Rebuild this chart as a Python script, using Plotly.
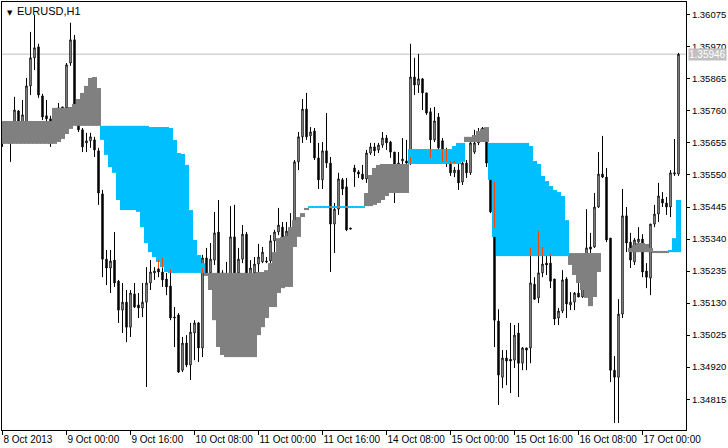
import plotly.graph_objects as go

symbol = "EURUSD,H1"

# ---- hourly candles (bar index 0 = 8 Oct 2013 08:00) ----
opens = [
    1.35698, 1.35671, 1.35704, 1.35681, 1.35760, 1.35714, 1.35724, 1.35842, 1.35934, 1.35970,
    1.35809, 1.35744, 1.35734, 1.35698, 1.35747, 1.35773, 1.35770, 1.35917, 1.35993, 1.35780,
    1.35698, 1.35655, 1.35662, 1.35665, 1.35629, 1.35488, 1.35274, 1.35245, 1.35271, 1.35202,
    1.35107, 1.35133, 1.35051, 1.35160, 1.35124, 1.35114, 1.35133, 1.35196, 1.35229, 1.35242,
    1.35232, 1.35209, 1.35186, 1.35081, 1.35091, 1.34910, 1.34999, 1.34927, 1.35032, 1.35065,
    1.34983, 1.35278, 1.35229, 1.35271, 1.35363, 1.35229, 1.35189, 1.35222, 1.35347, 1.35229,
    1.35274, 1.35356, 1.35212, 1.35229, 1.35258, 1.35265, 1.35268, 1.35268, 1.35334, 1.35363,
    1.35379, 1.35347, 1.35366, 1.35393, 1.35593, 1.35675, 1.35766, 1.35678, 1.35694, 1.35606,
    1.35534, 1.35629, 1.35589, 1.35389, 1.35438, 1.35534, 1.35511, 1.35376, 1.35573, 1.35560,
    1.35553, 1.35537, 1.35622, 1.35642, 1.35632, 1.35648, 1.35671, 1.35658, 1.35625, 1.35583,
    1.35596, 1.35596, 1.35589, 1.35871, 1.35845, 1.35865, 1.35819, 1.35757, 1.35665, 1.35740,
    1.35662, 1.35609, 1.35596, 1.35557, 1.35566, 1.35527, 1.35589, 1.35557, 1.35625, 1.35655,
    1.35681, 1.35698, 1.35593, 1.35429, 1.35071, 1.34887, 1.34950, 1.34946, 1.34943, 1.35032,
    1.34933, 1.34983, 1.34983, 1.35192, 1.35147, 1.35229, 1.35261, 1.35261, 1.35209, 1.35081,
    1.35104, 1.35209, 1.35124, 1.35133, 1.35163, 1.35150, 1.35196, 1.35314, 1.35314, 1.35445,
    1.35553, 1.35543, 1.35343, 1.34910, 1.34887, 1.35094, 1.35416, 1.35330, 1.35265, 1.35330,
    1.35340, 1.35235, 1.35212, 1.35389, 1.35422, 1.35471, 1.35458, 1.35445, 1.35553, 1.35553,
]
highs = [
    1.35724, 1.35717, 1.35714, 1.35806, 1.35763, 1.35796, 1.35868, 1.36019, 1.36075, 1.35980,
    1.35816, 1.35796, 1.35744, 1.35757, 1.35786, 1.35773, 1.35917, 1.36049, 1.36009, 1.35796,
    1.35704, 1.35688, 1.35688, 1.35675, 1.35639, 1.35501, 1.35304, 1.35304, 1.35363, 1.35206,
    1.35196, 1.35173, 1.35173, 1.35196, 1.35163, 1.35196, 1.35248, 1.35271, 1.35248, 1.35274,
    1.35278, 1.35229, 1.35242, 1.35117, 1.35097, 1.35019, 1.35025, 1.35065, 1.35074, 1.35068,
    1.35288, 1.35311, 1.35327, 1.35429, 1.35468, 1.35238, 1.35265, 1.35448, 1.35452, 1.35311,
    1.35386, 1.35363, 1.35271, 1.35281, 1.35324, 1.35314, 1.35281, 1.35353, 1.35370, 1.35442,
    1.35396, 1.35396, 1.35425, 1.35599, 1.35691, 1.35799, 1.35819, 1.35707, 1.35704, 1.35655,
    1.35658, 1.35753, 1.35609, 1.35458, 1.35557, 1.35540, 1.35540, 1.35376, 1.35583, 1.35566,
    1.35583, 1.35632, 1.35655, 1.35655, 1.35655, 1.35691, 1.35681, 1.35662, 1.35625, 1.35625,
    1.35671, 1.35665, 1.35980, 1.35934, 1.35947, 1.35868, 1.35819, 1.35770, 1.35773, 1.35753,
    1.35671, 1.35639, 1.35599, 1.35576, 1.35589, 1.35593, 1.35599, 1.35658, 1.35698, 1.35704,
    1.35707, 1.35704, 1.35596, 1.35527, 1.35110, 1.34976, 1.34976, 1.35065, 1.35058, 1.35065,
    1.34986, 1.34983, 1.35311, 1.35215, 1.35366, 1.35314, 1.35294, 1.35291, 1.35209, 1.35114,
    1.35238, 1.35215, 1.35166, 1.35166, 1.35206, 1.35294, 1.35438, 1.35360, 1.35491, 1.35625,
    1.35678, 1.35573, 1.35343, 1.34956, 1.35143, 1.35504, 1.35445, 1.35360, 1.35343, 1.35379,
    1.35356, 1.35261, 1.35389, 1.35452, 1.35524, 1.35494, 1.35478, 1.35566, 1.35668, 1.35950,
]
lows = [
    1.35642, 1.35658, 1.35593, 1.35671, 1.35698, 1.35704, 1.35714, 1.35812, 1.35894, 1.35803,
    1.35730, 1.35714, 1.35642, 1.35681, 1.35730, 1.35714, 1.35757, 1.35908, 1.35770, 1.35691,
    1.35625, 1.35625, 1.35639, 1.35609, 1.35452, 1.35215, 1.35189, 1.35163, 1.35183, 1.35065,
    1.35032, 1.35002, 1.35019, 1.35114, 1.35081, 1.35084, 1.34855, 1.35173, 1.35206, 1.35215,
    1.35183, 1.35156, 1.35074, 1.34986, 1.34901, 1.34904, 1.34920, 1.34878, 1.34943, 1.34937,
    1.34953, 1.35222, 1.35206, 1.35255, 1.35212, 1.35140, 1.35173, 1.35212, 1.35212, 1.35206,
    1.35261, 1.35206, 1.35189, 1.35206, 1.35229, 1.35261, 1.35261, 1.35261, 1.35294, 1.35353,
    1.35337, 1.35320, 1.35320, 1.35370, 1.35566, 1.35655, 1.35665, 1.35655, 1.35599, 1.35504,
    1.35504, 1.35573, 1.35232, 1.35294, 1.35419, 1.35484, 1.35366, 1.35373, 1.35511, 1.35540,
    1.35534, 1.35524, 1.35616, 1.35612, 1.35622, 1.35639, 1.35632, 1.35606, 1.35458, 1.35573,
    1.35583, 1.35583, 1.35583, 1.35812, 1.35819, 1.35763, 1.35747, 1.35606, 1.35658, 1.35632,
    1.35593, 1.35576, 1.35547, 1.35543, 1.35501, 1.35517, 1.35540, 1.35550, 1.35619, 1.35648,
    1.35671, 1.35576, 1.35425, 1.34986, 1.34796, 1.34851, 1.34861, 1.34835, 1.34917, 1.34822,
    1.34910, 1.34910, 1.34933, 1.35140, 1.35130, 1.35215, 1.35222, 1.35179, 1.35058, 1.35058,
    1.35097, 1.35081, 1.35107, 1.35107, 1.35150, 1.35147, 1.35189, 1.35294, 1.35311, 1.35442,
    1.35540, 1.35330, 1.34871, 1.34737, 1.34737, 1.35081, 1.35297, 1.35245, 1.35255, 1.35297,
    1.35215, 1.35179, 1.35156, 1.35379, 1.35396, 1.35445, 1.35419, 1.35412, 1.35547, 1.35547,
]
closes = [
    1.35671, 1.35704, 1.35665, 1.35763, 1.35714, 1.35747, 1.35842, 1.35934, 1.35967, 1.35812,
    1.35740, 1.35734, 1.35698, 1.35747, 1.35770, 1.35757, 1.35911, 1.35993, 1.35780, 1.35698,
    1.35642, 1.35662, 1.35675, 1.35632, 1.35491, 1.35274, 1.35245, 1.35268, 1.35196, 1.35107,
    1.35133, 1.35051, 1.35163, 1.35117, 1.35114, 1.35133, 1.35196, 1.35232, 1.35235, 1.35232,
    1.35206, 1.35183, 1.35081, 1.35084, 1.34904, 1.34999, 1.34927, 1.35035, 1.35065, 1.34983,
    1.35278, 1.35229, 1.35274, 1.35360, 1.35229, 1.35189, 1.35222, 1.35347, 1.35229, 1.35274,
    1.35356, 1.35222, 1.35245, 1.35258, 1.35281, 1.35297, 1.35265, 1.35334, 1.35363, 1.35386,
    1.35347, 1.35366, 1.35356, 1.35593, 1.35675, 1.35766, 1.35675, 1.35691, 1.35606, 1.35534,
    1.35629, 1.35589, 1.35389, 1.35438, 1.35537, 1.35504, 1.35370, 1.35373, 1.35560, 1.35553,
    1.35537, 1.35622, 1.35642, 1.35629, 1.35648, 1.35671, 1.35655, 1.35625, 1.35583, 1.35589,
    1.35602, 1.35589, 1.35871, 1.35845, 1.35865, 1.35819, 1.35753, 1.35665, 1.35727, 1.35639,
    1.35606, 1.35593, 1.35557, 1.35566, 1.35524, 1.35589, 1.35557, 1.35655, 1.35655, 1.35681,
    1.35704, 1.35589, 1.35429, 1.35074, 1.34894, 1.34950, 1.34940, 1.34940, 1.35025, 1.34933,
    1.34983, 1.34976, 1.35196, 1.35143, 1.35229, 1.35258, 1.35255, 1.35202, 1.35078, 1.35104,
    1.35206, 1.35127, 1.35133, 1.35163, 1.35150, 1.35196, 1.35311, 1.35307, 1.35445, 1.35553,
    1.35543, 1.35337, 1.34910, 1.34887, 1.35094, 1.35416, 1.35327, 1.35271, 1.35337, 1.35340,
    1.35232, 1.35215, 1.35389, 1.35422, 1.35481, 1.35458, 1.35445, 1.35557, 1.35557, 1.35946,
]

# ---- cloud spans (cyan where span_a > span_b, gray otherwise) ----
N = None
span_a = [
    1.35652, 1.35652, 1.35652, 1.35652, 1.35652, 1.35652, 1.35652, 1.35652, 1.35652, 1.35652,
    1.35652, 1.35652, 1.35652, 1.35652, 1.35658, 1.35668, 1.35684, 1.35701, 1.35711, 1.35711,
    1.35711, 1.35711, 1.35711, 1.35711, 1.35711, 1.35711, 1.35711, 1.35711, 1.35711, 1.35711,
    1.35711, 1.35711, 1.35711, 1.35711, 1.35711, 1.35711, 1.35711, 1.35707, 1.35707, 1.35707,
    1.35707, 1.35707, 1.35704, 1.35665, 1.35622, 1.35619, 1.35583, 1.35435, 1.35337, 1.35288,
    1.35261, 1.35219, 1.35173, 1.35074, 1.34986, 1.34960, 1.34953, 1.34953, 1.34953, 1.34953,
    1.34953, 1.34953, 1.34953, 1.34953, 1.35025, 1.35051, 1.35081, 1.35117, 1.35117, 1.35163,
    1.35179, 1.35183, 1.35183, 1.35314, 1.35347, 1.35412, 1.35435, 1.35448, 1.35448, 1.35448,
    1.35448, 1.35448, 1.35448, 1.35448, 1.35448, 1.35448, 1.35448, 1.35448, 1.35448, 1.35448,
    1.35448, 1.35448, 1.35448, 1.35452, 1.35458, 1.35468, 1.35481, 1.35491, 1.35491, 1.35491,
    1.35491, 1.35491, 1.35635, 1.35635, 1.35635, 1.35635, 1.35635, 1.35635, 1.35635, 1.35635,
    1.35635, 1.35635, 1.35635, 1.35645, 1.35655, 1.35655, 1.35658, 1.35658, 1.35658, 1.35658,
    1.35658, 1.35658, 1.35655, 1.35655, 1.35655, 1.35655, 1.35655, 1.35655, 1.35655, 1.35655,
    1.35655, 1.35655, 1.35645, 1.35596, 1.35586, 1.35547, 1.35530, 1.35514, 1.35501, 1.35494,
    1.35481, 1.35402, 1.35255, 1.35222, 1.35196, 1.35173, 1.35147, 1.35120, 1.35150, 1.35232,
    N, N, N, N, N, N, N, 1.35297, 1.35297, 1.35297,
    1.35297, 1.35297, 1.35297, 1.35294, 1.35294, 1.35294, 1.35294, 1.35304, 1.35343, 1.35468,
]
span_b = [
    1.35727, 1.35727, 1.35727, 1.35727, 1.35727, 1.35727, 1.35727, 1.35727, 1.35727, 1.35727,
    1.35727, 1.35727, 1.35727, 1.35770, 1.35770, 1.35770, 1.35770, 1.35773, 1.35783, 1.35799,
    1.35819, 1.35842, 1.35868, 1.35871, 1.35835, 1.35665, 1.35616, 1.35576, 1.35557, 1.35468,
    1.35435, 1.35435, 1.35435, 1.35435, 1.35429, 1.35379, 1.35327, 1.35297, 1.35281, 1.35265,
    1.35248, 1.35232, 1.35229, 1.35229, 1.35229, 1.35229, 1.35229, 1.35229, 1.35229, 1.35229,
    1.35229, 1.35229, 1.35229, 1.35229, 1.35229, 1.35229, 1.35229, 1.35229, 1.35229, 1.35229,
    1.35229, 1.35229, 1.35229, 1.35229, 1.35232, 1.35232, 1.35238, 1.35261, 1.35297, 1.35343,
    1.35347, 1.35350, 1.35379, 1.35402, 1.35412, 1.35425, 1.35442, 1.35442, 1.35442, 1.35442,
    1.35442, 1.35442, 1.35442, 1.35442, 1.35442, 1.35442, 1.35442, 1.35442, 1.35442, 1.35442,
    1.35442, 1.35491, 1.35550, 1.35573, 1.35583, 1.35586, 1.35586, 1.35586, 1.35586, 1.35586,
    1.35586, 1.35586, 1.35586, 1.35586, 1.35586, 1.35586, 1.35586, 1.35586, 1.35586, 1.35586,
    1.35586, 1.35586, 1.35586, 1.35586, 1.35586, 1.35593, 1.35675, 1.35675, 1.35681, 1.35694,
    1.35701, 1.35707, 1.35534, 1.35347, 1.35284, 1.35284, 1.35284, 1.35284, 1.35284, 1.35284,
    1.35284, 1.35284, 1.35284, 1.35284, 1.35284, 1.35284, 1.35284, 1.35284, 1.35284, 1.35284,
    1.35284, 1.35284, 1.35294, 1.35294, 1.35294, 1.35294, 1.35294, 1.35294, 1.35294, 1.35294,
    N, N, N, N, N, N, N, 1.35311, 1.35320, 1.35327,
    1.35327, 1.35324, 1.35311, 1.35301, 1.35301, 1.35301, 1.35301, 1.35297, 1.35297, 1.35297,
]

# ---- red marks (bar, top, bottom) ----
red_bar = [39, 40, 42, 50, 82, 84, 86, 102, 107, 110, 111, 112, 113, 123, 132, 134, 135, 137]
red_top = [1.35274, 1.35278, 1.35242, 1.35245, 1.35448, 1.35448, 1.35448, 1.35609, 1.35635,
           1.35635, 1.35635, 1.35596, 1.35596, 1.35527, 1.35311, 1.35366, 1.35314, 1.35291]
red_bottom = [1.35245, 1.35245, 1.35229, 1.35229, 1.35442, 1.35442, 1.35442, 1.35589, 1.35606,
              1.35593, 1.35593, 1.35586, 1.35589, 1.35376, 1.35284, 1.35284, 1.35284, 1.35284]

# ---- axis labels ----
x_tick_bars = [0, 16, 32, 48, 64, 80, 96, 112, 128, 144, 160]
x_tick_text = ["8 Oct 2013", "9 Oct 00:00", "9 Oct 16:00", "10 Oct 08:00", "11 Oct 00:00",
               "11 Oct 16:00", "14 Oct 08:00", "15 Oct 00:00", "15 Oct 16:00", "16 Oct 08:00",
               "17 Oct 00:00"]
y_ticks = [1.34815, 1.34920, 1.35025, 1.35130, 1.35235, 1.35340, 1.35445, 1.35550,
           1.35655, 1.35760, 1.35865, 1.35970, 1.36075]

n = len(opens)
assert all(len(a) == n for a in (highs, lows, closes, span_a, span_b))
bars = list(range(n))

CYAN = "#00BFFF"
GRAY = "#808080"
RED = "#FF4500"
FONT = "Liberation Sans"

fig = go.Figure()
fig.add_trace(go.Candlestick(
    x=bars, open=opens, high=highs, low=lows, close=closes,
    increasing=dict(line=dict(color="black", width=1), fillcolor="white"),
    decreasing=dict(line=dict(color="black", width=1), fillcolor="black"),
    whiskerwidth=0, hoverinfo="skip", showlegend=False,
))

cx, cy, gx, gy = [], [], [], []
for i in bars:
    a, b = span_a[i], span_b[i]
    if a is None or b is None:
        continue
    if a > b:
        cx += [i, i, None]; cy += [a, b, None]
    else:
        gx += [i, i, None]; gy += [b, a, None]
fig.add_trace(go.Scatter(x=gx, y=gy, mode="lines", line=dict(color=GRAY, width=5),
                         hoverinfo="skip", showlegend=False))
fig.add_trace(go.Scatter(x=cx, y=cy, mode="lines", line=dict(color=CYAN, width=5),
                         hoverinfo="skip", showlegend=False))

rx, ry = [], []
for b, t, btm in zip(red_bar, red_top, red_bottom):
    rx += [b, b, None]; ry += [t, btm, None]
fig.add_trace(go.Scatter(x=rx, y=ry, mode="lines", line=dict(color=RED, width=1),
                         hoverinfo="skip", showlegend=False))

last = closes[-1]
fig.add_shape(type="line", xref="paper", x0=0, x1=1, yref="y", y0=last, y1=last,
              line=dict(color="#c0c0c0", width=1), layer="below")
fig.add_annotation(xref="paper", x=1, xanchor="left", xshift=2, yref="y", y=last,
                   text=f"{last:.5f}", showarrow=False, bgcolor="#c0c0c0",
                   font=dict(family=FONT, size=10, color="white"), borderpad=0)
fig.add_annotation(xref="paper", x=0, xanchor="left", xshift=3, yref="paper", y=1,
                   yanchor="top", yshift=-5, text="▼", showarrow=False,
                   font=dict(family="DejaVu Sans", size=7, color="black"))
fig.add_annotation(xref="paper", x=0, xanchor="left", xshift=13, yref="paper", y=1,
                   yanchor="top", yshift=-1, text=symbol, showarrow=False,
                   font=dict(family=FONT, size=11, color="black"))

fig.update_layout(
    template="none",
    width=728, height=448,
    margin=dict(l=2, r=42, t=2, b=18, autoexpand=False),
    paper_bgcolor="white", plot_bgcolor="white",
    showlegend=False, hovermode=False, boxgap=0.5,
    font=dict(family=FONT, size=10, color="black"),
    xaxis=dict(range=[-0.125, 170.875], tickvals=x_tick_bars, ticktext=x_tick_text, tickangle=0,
               ticks="outside", ticklen=4, tickcolor="black", showline=True, mirror=True,
               linecolor="black", linewidth=1, showgrid=False, zeroline=False, automargin=False,
               rangeslider=dict(visible=False), ticklabelposition="outside right",
               tickfont=dict(family=FONT, size=10, color="black")),
    yaxis=dict(range=[1.34714, 1.36117], side="right", tickvals=y_ticks, tickformat=".5f",
               ticks="outside", ticklen=3, tickcolor="black", showline=True, mirror=True,
               linecolor="black", linewidth=1, showgrid=False, zeroline=False, automargin=False,
               tickfont=dict(family=FONT, size=9.5, color="black")),
)

fig.write_html("out.html", config={"displayModeBar": False},
               post_script="document.body.style.margin='0';document.body.style.overflow='hidden';")
